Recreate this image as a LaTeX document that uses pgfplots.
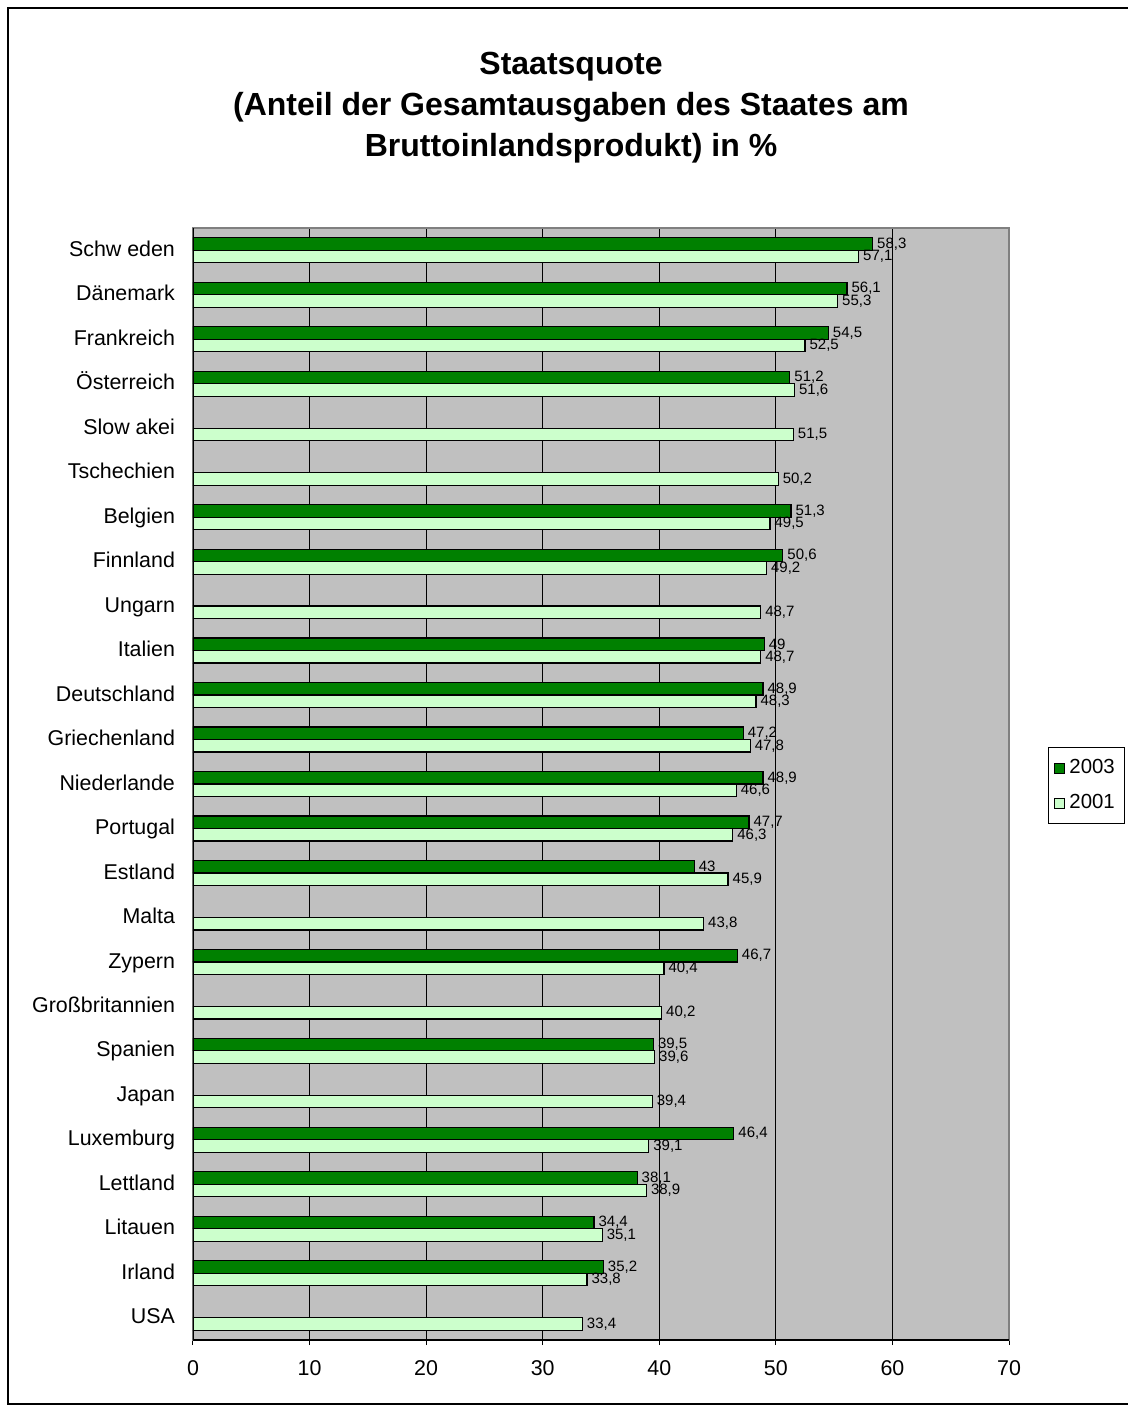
\documentclass[border=0pt]{standalone}
\usepackage{pgfplots}
\pgfplotsset{compat=1.18}
\usepackage{fontspec}
\setmainfont{Liberation Sans}
\definecolor{dgreen}{RGB}{0,128,0}
\definecolor{lgreen}{RGB}{204,255,204}
\definecolor{bggray}{RGB}{192,192,192}
\begin{document}
\begin{tikzpicture}
\clip (0pt,0pt) rectangle (564pt,-704pt);
\draw[black, line width=0.6pt] (4pt,-4pt) rectangle (572pt,-702pt);
\node[font=\bfseries\fontsize{16}{20.5}\selectfont, align=center] at (285.5pt,-54pt)
 {Staatsquote\\(Anteil der Gesamtausgaben des Staates am\\Bruttoinlandsprodukt) in \%};
\begin{axis}[
  at={(96.5pt,-670pt)}, anchor=south west,
  scale only axis, width=408pt, height=556pt,
  xbar, bar width=6.25pt,
  xmin=0, xmax=70, ymin=-0.5, ymax=24.5,
  xtick={0,10,...,70},
  ytick={0,...,24},
  yticklabels={USA,Irland,Litauen,Lettland,Luxemburg,Japan,Spanien,Großbritannien,Zypern,Malta,Estland,Portugal,Niederlande,Griechenland,Deutschland,Italien,Ungarn,Finnland,Belgien,Tschechien,Slow akei,Österreich,Frankreich,Dänemark,Schw eden},
  minor ytick={-0.5,0.5,...,24.5},
  ytick style={draw=none},
  minor tick style={draw=black, line width=0.5pt},
  minor tick length=2.5pt,
  major tick length=2.5pt,
  xtick style={draw=black, line width=0.5pt},
  tick align=outside,
  xtick pos=bottom, ytick pos=left,
  xmajorgrids=true,
  major grid style={black, line width=0.5pt},
  axis background/.style={fill=bggray},
  axis line style={draw=black!50, line width=0.8pt},
  tick label style={font=\fontsize{10.7}{12}\selectfont},
  /pgf/number format/assume math mode=true,
  /pgf/number format/use comma,
  xticklabel style={yshift=-4pt},
  yticklabel style={xshift=-3pt, anchor=east, text height=1.45ex, text depth=0.3ex},
  nodes near coords,
  nodes near coords style={font=\fontsize{7.5}{9}\selectfont, black, inner sep=2pt},
  legend style={at={(1.0478,0.5333)}, anchor=north west, draw=black, fill=white,
    font=\fontsize{10.2}{12}\selectfont, row sep=5pt, inner xsep=3pt, inner ysep=4pt},
  legend cell align=left,
  legend image code/.code={\draw[#1, draw=black, line width=0.5pt] (0pt,-2.5pt) rectangle (5pt,2.5pt);},
]
\addplot[fill=dgreen, draw=black, line width=0.6pt, bar shift=3.125pt] coordinates {
 (58.3,24) (56.1,23) (54.5,22) (51.2,21) (51.3,18) (50.6,17) (49,15) (48.9,14) (47.2,13)
 (48.9,12) (47.7,11) (43,10) (46.7,8) (39.5,6) (46.4,4) (38.1,3) (34.4,2) (35.2,1)};
\addplot[fill=lgreen, draw=black, line width=0.6pt, bar shift=-3.125pt] coordinates {
 (57.1,24) (55.3,23) (52.5,22) (51.6,21) (51.5,20) (50.2,19) (49.5,18) (49.2,17) (48.7,16)
 (48.7,15) (48.3,14) (47.8,13) (46.6,12) (46.3,11) (45.9,10) (43.8,9) (40.4,8) (40.2,7)
 (39.6,6) (39.4,5) (39.1,4) (38.9,3) (35.1,2) (33.8,1) (33.4,0)};
\legend{2003,2001}
\draw[black, line width=0.8pt] (rel axis cs:0,0) -- (rel axis cs:0,1);
\draw[black, line width=0.8pt] (rel axis cs:0,0) -- (rel axis cs:1,0);
\end{axis}
\end{tikzpicture}
\end{document}
